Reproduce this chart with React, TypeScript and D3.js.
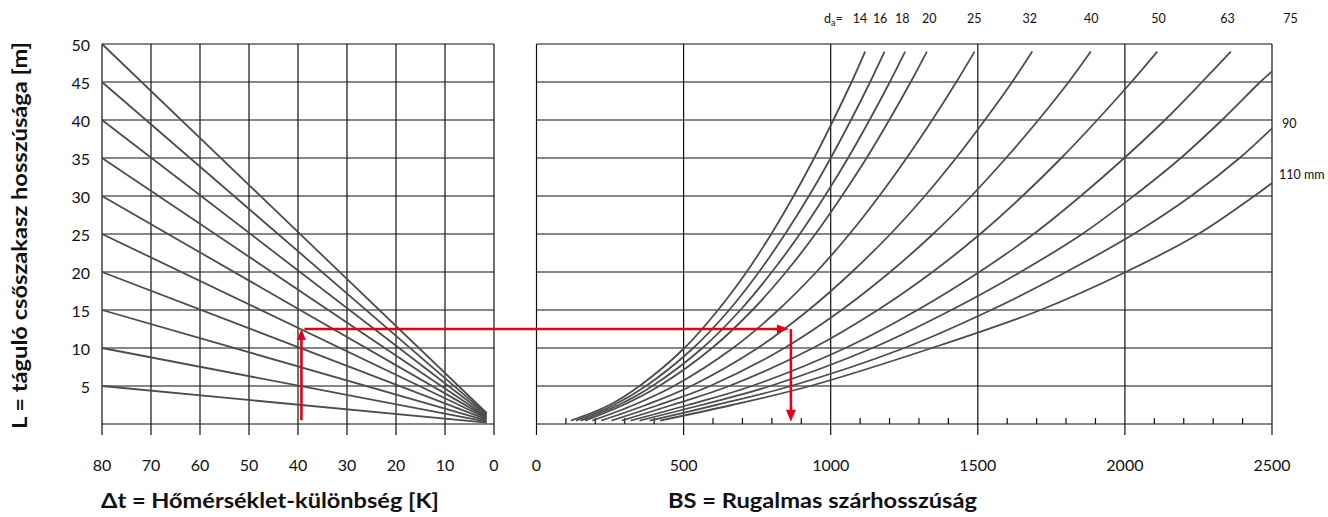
import React from "react";
import * as d3 from "d3";

// axis ticks
const lengthTicks = [5, 10, 15, 20, 25, 30, 35, 40, 45, 50];
const lengthGrid = [0, 5, 10, 15, 20, 25, 30, 35, 40, 45, 50];
const tempTicks = [80, 70, 60, 50, 40, 30, 20, 10, 0];
const bsTicks = [0, 500, 1000, 1500, 2000, 2500];
const bsMinor = [100, 200, 300, 400, 600, 700, 800, 900, 1100, 1200, 1300, 1400,
  1600, 1700, 1800, 1900, 2100, 2200, 2300, 2400];

// left panel: straight lines from (80 K, L) down to the common corner
const startLengths = [5, 10, 15, 20, 25, 30, 35, 40, 45, 50];
const endLengths = [0.17, 0.3, 0.45, 0.6, 0.75, 0.87, 1.0, 1.15, 1.3, 1.45];
const endTemp = 1.5;

// right panel: BS read at these lengths for each pipe diameter
const levels = [0.45, 2.5, 5, 10, 15, 20, 25, 30, 35, 40, 45, 49];
const bs14 = [117, 248, 350, 503, 617, 714, 798, 874, 944, 1009, 1071, 1117];
const bs16 = [134, 263, 372, 533, 655, 756, 845, 926, 1000, 1069, 1134, 1183];
const bs18 = [150, 279, 394, 564, 693, 800, 895, 980, 1059, 1132, 1201, 1253];
const bs20 = [165, 295, 417, 597, 734, 848, 948, 1038, 1122, 1199, 1272, 1327];
const bs25 = [190, 330, 467, 668, 822, 951, 1064, 1165, 1258, 1345, 1427, 1489];
const bs32 = [220, 372, 526, 752, 925, 1072, 1203, 1320, 1426, 1524, 1617, 1685];
const bs40 = [255, 415, 590, 843, 1037, 1202, 1348, 1478, 1596, 1706, 1809, 1884];
const bs50 = [290, 460, 655, 940, 1160, 1346, 1508, 1652, 1784, 1906, 2022, 2110];
const bs63 = [320, 515, 732, 1050, 1295, 1505, 1690, 1850, 1998, 2136, 2262, 2360];
const bs75 = [350, 560, 795, 1142, 1410, 1645, 1855, 2030, 2190, 2330, 2460];
const bs90 = [385, 610, 865, 1250, 1545, 1800, 2030, 2225, 2390];
const bs110 = [420, 665, 930, 1344, 1713, 2003, 2250, 2440];
const diameters = [14, 16, 18, 20, 25, 32, 40, 50, 63, 75, 90, 110];
const curveBs = [bs14, bs16, bs18, bs20, bs25, bs32, bs40, bs50, bs63, bs75, bs90, bs110];
// where the last three leave the frame at BS = 2500
const exitLengths = { 75: 46.4, 90: 38.9, 110: 31.7 };

// top labels
const topLabels = ["14", "16", "18", "20", "25", "32", "40", "50", "63", "75"];
const topLabelBs = [1100, 1168, 1243, 1335, 1488, 1677, 1886, 2114, 2349, 2563];

// worked example
const exTemp = 39.3;
const exLength = 12.5;
const exBs = 858;

const RED = "#e2001a";
const INK = "#111";
const CURVE = "#4d4d4d";
const FONT = "Lato, 'Open Sans', sans-serif";

export default function App() {
  const yL = d3.scaleLinear().domain([0, 50]).range([424, 44]);
  const xT = d3.scaleLinear().domain([80, 0]).range([102, 494]);
  const xB = d3.scaleLinear().domain([0, 2500]).range([536.5, 1272]);
  const gridBottom = 435;

  const line = d3
    .line<[number, number]>()
    .x((d) => xB(d[0]))
    .y((d) => yL(d[1]))
    .curve(d3.curveCatmullRom.alpha(0.5));

  const curves = curveBs.map((arr, i) => {
    const pts: [number, number][] = arr.map((v, j) => [v, levels[j]]);
    const ex = (exitLengths as any)[diameters[i]];
    if (ex !== undefined) pts.push([2500, ex]);
    return line(pts) as string;
  });

  // red example path
  const vx = xT(exTemp);
  const hy = yL(exLength);
  const rx = xB(exBs);
  const bottomY = yL(0.3);

  return (
    <svg
      width={1328}
      height={517}
      style={{ position: "absolute", left: 0, top: 0, background: "#fff" }}
      fontFamily={FONT}
    >
      {/* grid */}
      <g stroke={INK} strokeWidth={1.2}>
        {lengthGrid.map((v) => (
          <line key={"hl" + v} x1={xT(80)} x2={xT(0)} y1={yL(v)} y2={yL(v)} />
        ))}
        {lengthGrid.map((v) => (
          <line key={"hr" + v} x1={xB(0)} x2={xB(2500)} y1={yL(v)} y2={yL(v)} />
        ))}
        {tempTicks.map((v) => (
          <line key={"vl" + v} x1={xT(v)} x2={xT(v)} y1={yL(50)} y2={gridBottom} />
        ))}
        {bsTicks.map((v) => (
          <line key={"vr" + v} x1={xB(v)} x2={xB(v)} y1={yL(50)} y2={gridBottom} />
        ))}
        {bsMinor.map((v) => (
          <line key={"m" + v} x1={xB(v)} x2={xB(v)} y1={yL(0)} y2={yL(0) - 6} />
        ))}
      </g>

      {/* left panel lines */}
      <g stroke={CURVE} strokeWidth={1.8} fill="none">
        {startLengths.map((v, i) => (
          <line
            key={"t" + v}
            x1={xT(80)}
            y1={yL(v)}
            x2={xT(endTemp)}
            y2={yL(endLengths[i])}
          />
        ))}
      </g>

      {/* right panel curves */}
      <g stroke={CURVE} strokeWidth={1.8} fill="none">
        {curves.map((d, i) => (
          <path key={"c" + i} d={d} />
        ))}
      </g>

      {/* worked example arrows */}
      <g stroke={RED} strokeWidth={2.6} fill="none">
        <line x1={vx} x2={vx} y1={yL(0.5)} y2={hy + 8} />
        <line x1={vx + 3} x2={rx - 10} y1={hy} y2={hy} />
        <line x1={rx + 2} x2={rx + 2} y1={hy} y2={bottomY - 9} />
      </g>
      <g fill={RED}>
        <polygon points={`${vx},${hy} ${vx - 4.5},${hy + 11} ${vx + 4.5},${hy + 11}`} />
        <polygon points={`${rx},${hy} ${rx - 12},${hy - 4.5} ${rx - 12},${hy + 4.5}`} />
        <polygon
          points={`${rx + 2},${bottomY} ${rx - 3},${bottomY - 12} ${rx + 7},${bottomY - 12}`}
        />
      </g>

      {/* tick labels */}
      <g fontSize={16} fill={INK}>
        {lengthTicks.map((v) => (
          <text key={"yl" + v} x={90} y={yL(v)} textAnchor="end" dominantBaseline="central">
            {v}
          </text>
        ))}
        {tempTicks.map((v) => (
          <text key={"xl" + v} x={xT(v)} y={464} textAnchor="middle" dominantBaseline="central">
            {v}
          </text>
        ))}
        {bsTicks.map((v) => (
          <text key={"xb" + v} x={xB(v)} y={464} textAnchor="middle" dominantBaseline="central">
            {v}
          </text>
        ))}
      </g>

      {/* diameter labels */}
      <g fontSize={12.5} fill={INK}>
        <text x={824} y={23}>
          d<tspan fontSize={9} dy={3}>a</tspan>
          <tspan dy={-3}>=</tspan>
        </text>
        {topLabels.map((t, i) => (
          <text key={"d" + t} x={xB(topLabelBs[i])} y={23} textAnchor="middle">
            {t}
          </text>
        ))}
        <text x={1282} y={128}>90</text>
        <text x={1279} y={179}>110 mm</text>
      </g>

      {/* axis titles */}
      <g fontSize={20} fontWeight="bold" fill={INK}>
        <text x={101} y={508} textLength={338} lengthAdjust="spacingAndGlyphs">
          Δt = Hőmérséklet-különbség [K]
        </text>
        <text x={668} y={508} textLength={309} lengthAdjust="spacingAndGlyphs">
          BS = Rugalmas szárhosszúság
        </text>
        <text
          transform="translate(27,429) rotate(-90)"
          x={0}
          y={0}
          textLength={387}
          lengthAdjust="spacingAndGlyphs"
        >
          L = táguló csőszakasz hosszúsága [m]
        </text>
      </g>
    </svg>
  );
}
